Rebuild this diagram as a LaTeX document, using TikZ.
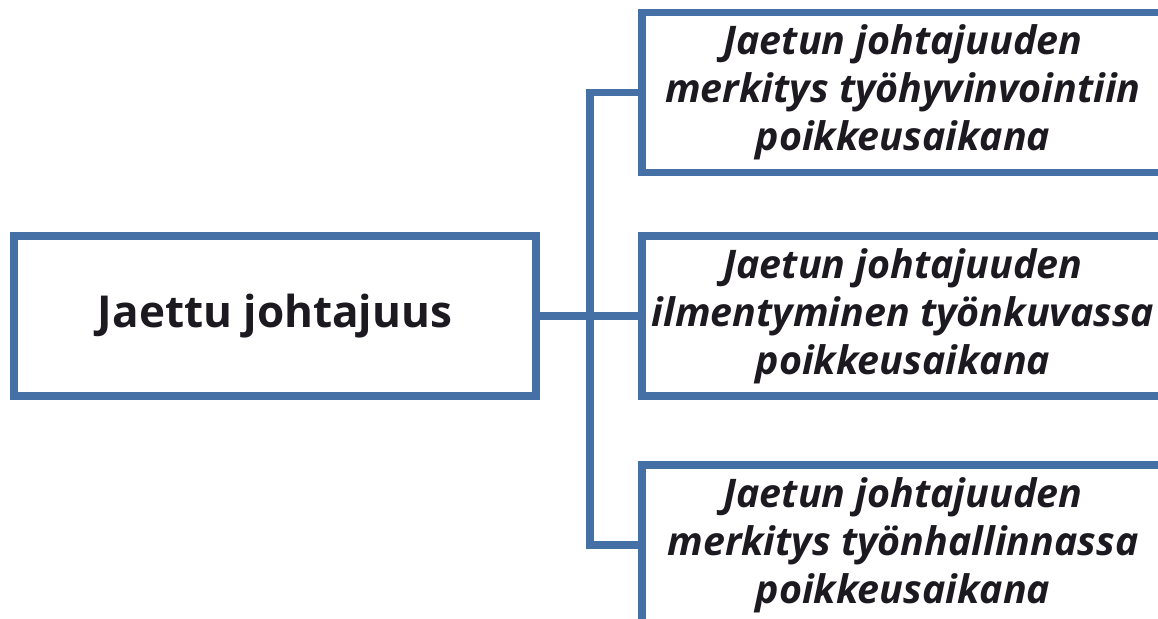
\documentclass[tikz,border=0pt]{standalone}
\usepackage{fontspec}
\setmainfont{Open Sans}
\definecolor{boxblue}{RGB}{68,112,166}
\definecolor{txt}{RGB}{28,26,32}
\begin{document}
\begin{tikzpicture}[x=0.5pt,y=-0.5pt,
  box/.style={draw=boxblue, line width=3.75pt, fill=white, minimum width=261pt, minimum height=80pt, inner sep=0pt, align=center, text=txt},
  leftbox/.style={box, font=\fontsize{22}{26}\selectfont\bfseries},
  rightbox/.style={box, font=\fontsize{19.7}{24}\selectfont\bfseries\itshape},
  conn/.style={draw=boxblue, line width=3.75pt}]
\clip (0,0) rectangle (1158,619);
\fill[white] (0,0) rectangle (1158,619);
\node[leftbox] (L) at (275,316) {Jaettu johtajuus};
\node[rightbox] (T) at (903,92.5) {Jaetun johtajuuden\\merkitys työhyvinvointiin\\poikkeusaikana};
\node[rightbox] (M) at (903,316) {Jaetun johtajuuden\\ilmentyminen työnkuvassa\\poikkeusaikana};
\node[rightbox] (B) at (903,545) {Jaetun johtajuuden\\merkitys työnhallinnassa\\poikkeusaikana};
\coordinate (j) at (590,316);
\draw[conn] (L.east) -- (M.west);
\draw[conn] (T.west) -| (j) |- (B.west);
\end{tikzpicture}
\end{document}
